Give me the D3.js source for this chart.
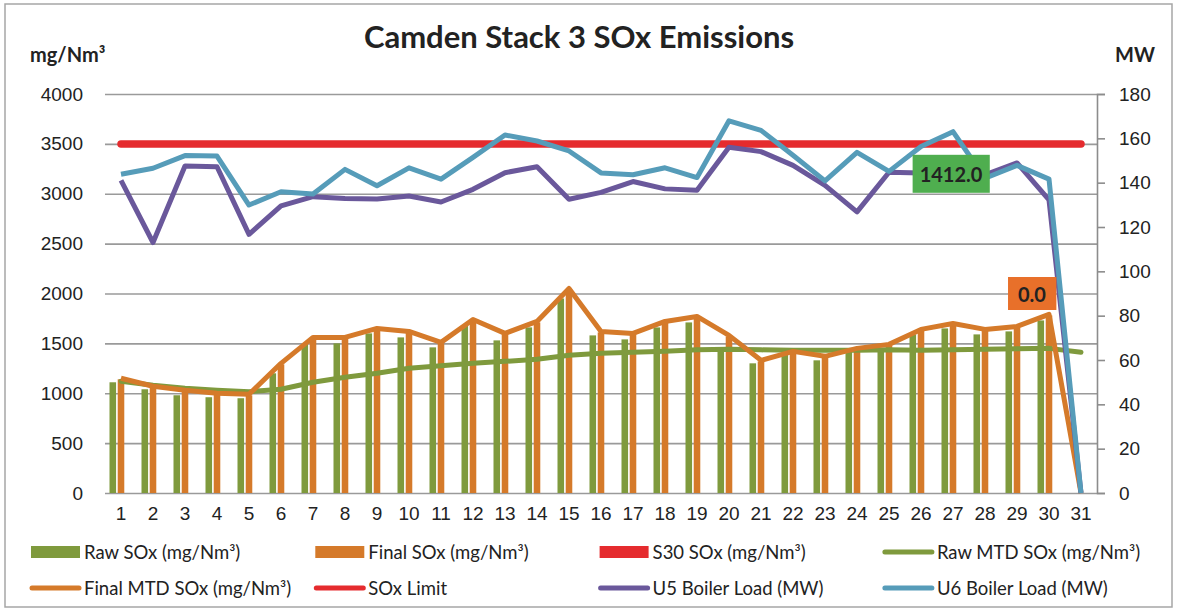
<!DOCTYPE html>
<html>
<head>
<meta charset="utf-8">
<script src="https://cdn.jsdelivr.net/npm/d3@7/dist/d3.min.js"></script>
<style>
  body { margin: 0; background: #fff; }
  svg { font-family: Lato, "Noto Sans", sans-serif; }
</style>
</head>
<body>
<div id="chart"></div>
<script>
// Data
const days = ['1','2','3','4','5','6','7','8','9','10','11','12','13','14','15','16',
              '17','18','19','20','21','22','23','24','25','26','27','28','29','30','31'];

const rawSox = [1110, 1040, 980, 960, 950, 1200, 1490, 1500, 1600, 1560, 1460, 1680, 1530, 1660, 1950, 1580,
                1540, 1660, 1710, 1450, 1300, 1400, 1330, 1430, 1450, 1590, 1650, 1590, 1620, 1730, 0];
const finalSox = [1140, 1060, 1020, 990, 980, 1290, 1550, 1550, 1640, 1610, 1500, 1730, 1590, 1710, 2040, 1610,
                  1590, 1710, 1760, 1570, 1320, 1410, 1360, 1440, 1480, 1630, 1690, 1630, 1660, 1780, 0];
const s30Sox = [0, 0, 0, 0, 0, 0, 0, 0, 0, 0, 0, 0, 0, 0, 0, 0,
                0, 0, 0, 0, 0, 0, 0, 0, 0, 0, 0, 0, 0, 0, 0];
const rawMtd = [1120, 1080, 1050, 1030, 1015, 1040, 1110, 1160, 1200, 1250, 1275, 1300, 1320, 1340, 1380, 1400,
                1410, 1420, 1435, 1440, 1435, 1430, 1430, 1430, 1435, 1430, 1435, 1440, 1445, 1450, 1412];
const finalMtd = [1150, 1070, 1030, 1000, 990, 1300, 1560, 1560, 1650, 1620, 1510, 1740, 1600, 1720, 2050, 1620,
                  1600, 1720, 1770, 1580, 1330, 1420, 1370, 1450, 1490, 1640, 1700, 1640, 1670, 1790, 0];
const soxLimit = [3500, 3500, 3500, 3500, 3500, 3500, 3500, 3500, 3500, 3500, 3500, 3500, 3500, 3500, 3500, 3500,
                  3500, 3500, 3500, 3500, 3500, 3500, 3500, 3500, 3500, 3500, 3500, 3500, 3500, 3500, 3500];
const u5Load = [141, 113, 147.5, 147.2, 116.7, 129.5, 133.7, 132.9, 132.6, 134, 131.3, 137, 144.5, 147.2, 132.5, 135.6,
                140.5, 137.2, 136.6, 156, 154, 147.8, 138.8, 126.8, 144.7, 144.4, 144, 143.5, 148.9, 132.2, 0];
const u6Load = [143.8, 146.5, 152.2, 152, 129.9, 135.9, 134.9, 146, 138.6, 146.7, 141.6, 151.4, 161.5, 158.8, 154.3, 144.4,
                143.6, 146.7, 142.3, 167.9, 163.6, 152.4, 140.8, 153.7, 145.1, 156.3, 163, 142, 147.8, 141.6, 0];

const leftTicks = [0, 500, 1000, 1500, 2000, 2500, 3000, 3500, 4000];
const rightTicks = [0, 20, 40, 60, 80, 100, 120, 140, 160, 180];

const labelRawMtd = '1412.0';
const labelFinalMtd = '0.0';

// Dimensions
const width = 1180;
const height = 611;
const margin = { top: 94, right: 83, bottom: 118, left: 105 };

const svg = d3.select('#chart')
  .append('svg')
  .attr('width', width)
  .attr('height', height);

// outer frame
svg.append('rect')
  .attr('x', 5).attr('y', 4)
  .attr('width', 1167).attr('height', 603)
  .attr('fill', '#fff')
  .attr('stroke', '#a6a6a6')
  .attr('stroke-width', 1.5);

const x = d3.scaleBand()
  .domain(days)
  .range([margin.left, width - margin.right])
  .padding(0);

const x1 = d3.scaleBand()
  .domain(['raw', 'final', 's30'])
  .range([x.bandwidth() / 2 - 11.5, x.bandwidth() / 2 + 11.5])
  .paddingInner(0.2);

const y = d3.scaleLinear()
  .domain([0, 4000])
  .range([height - margin.bottom, margin.top]);

const yR = d3.scaleLinear()
  .domain([0, 180])
  .range([height - margin.bottom, margin.top]);

const cx = d => x(d) + x.bandwidth() / 2;

// gridlines + left axis labels
const gy = svg.append('g')
  .attr('transform', `translate(${margin.left},0)`)
  .call(d3.axisLeft(y).tickValues(leftTicks).tickFormat(d3.format('d'))
    .tickSize(-(width - margin.left - margin.right)).tickPadding(22));
gy.select('.domain').remove();
gy.selectAll('line').attr('stroke', '#9a9a9a').attr('stroke-width', 1.6);
gy.selectAll('text').attr('fill', '#222').style('font-size', '19px');

// right axis
const gr = svg.append('g')
  .attr('transform', `translate(${width - margin.right},0)`)
  .call(d3.axisRight(yR).tickValues(rightTicks).tickSize(8).tickPadding(14));
gr.select('.domain').attr('stroke', '#8c8c8c').attr('stroke-width', 1.6);
gr.selectAll('line').attr('stroke', '#8c8c8c').attr('stroke-width', 1.6);
gr.selectAll('text').attr('fill', '#222').style('font-size', '19px');

// bottom axis labels
const gx = svg.append('g')
  .attr('transform', `translate(0,${height - margin.bottom})`)
  .call(d3.axisBottom(x).tickSize(0).tickPadding(14));
gx.select('.domain').remove();
gx.selectAll('text').attr('fill', '#222').style('font-size', '19px');

// bars
const barSeries = [
  { key: 'raw', values: rawSox, color: '#7f9a3d' },
  { key: 'final', values: finalSox, color: '#d57a2a' },
  { key: 's30', values: s30Sox, color: '#e52b2e' }
];
barSeries.forEach(s => {
  svg.append('g').selectAll('rect')
    .data(days)
    .enter()
    .append('rect')
    .attr('x', (d, i) => x(d) + x1(s.key))
    .attr('y', (d, i) => y(s.values[i]))
    .attr('width', x1.bandwidth())
    .attr('height', (d, i) => y(0) - y(s.values[i]))
    .attr('fill', s.color);
});

// lines
const lineL = d3.line().x((d, i) => cx(days[i])).y(d => y(d));
const lineR = d3.line().x((d, i) => cx(days[i])).y(d => yR(d));

svg.append('path').datum(rawMtd)
  .attr('fill', 'none').attr('stroke', '#7f9a3d').attr('stroke-width', 5)
  .attr('stroke-linejoin', 'round').attr('stroke-linecap', 'round')
  .attr('d', lineL);

svg.append('path').datum(finalMtd)
  .attr('fill', 'none').attr('stroke', '#d57a2a').attr('stroke-width', 5)
  .attr('stroke-linejoin', 'round')
  .attr('d', lineL);

svg.append('path').datum(soxLimit)
  .attr('fill', 'none').attr('stroke', '#e52b2e').attr('stroke-width', 7.5)
  .attr('stroke-linecap', 'round')
  .attr('d', lineL);

svg.append('path').datum(u5Load)
  .attr('fill', 'none').attr('stroke', '#6a589b').attr('stroke-width', 5)
  .attr('stroke-linejoin', 'round')
  .attr('d', lineR);

svg.append('path').datum(u6Load)
  .attr('fill', 'none').attr('stroke', '#569cb9').attr('stroke-width', 5)
  .attr('stroke-linejoin', 'round')
  .attr('d', lineR);

// data labels
function dataLabel(text, mx, my, fill, pad, h) {
  const g = svg.append('g');
  const t = g.append('text')
    .attr('x', mx).attr('y', my)
    .attr('text-anchor', 'middle')
    .attr('dominant-baseline', 'central')
    .attr('fill', '#222')
    .style('font-size', '20px')
    .style('font-weight', 'bold')
    .text(text);
  const bb = t.node().getBBox();
  g.insert('rect', 'text')
    .attr('x', bb.x - pad).attr('y', my - h / 2)
    .attr('width', bb.width + pad * 2).attr('height', h)
    .attr('fill', fill);
}
dataLabel(labelRawMtd, cx('27') - 2, y(3200), '#4fae4f', 7, 38);
dataLabel(labelFinalMtd, cx('30') - 17, y(2000), '#e8702a', 10, 33);

// title and axis titles
svg.append('text')
  .attr('x', 579).attr('y', 48)
  .attr('text-anchor', 'middle')
  .attr('fill', '#222')
  .style('font-size', '31px')
  .style('font-weight', 'bold')
  .text('Camden Stack 3 SOx Emissions');

svg.append('text')
  .attr('x', 30).attr('y', 62)
  .attr('fill', '#222')
  .style('font-size', '20px')
  .style('font-weight', 'bold')
  .text('mg/Nm³');

svg.append('text')
  .attr('x', 1115).attr('y', 62)
  .attr('fill', '#222')
  .style('font-size', '20px')
  .style('font-weight', 'bold')
  .text('MW');

// legend
const legendItems = [
  { name: 'Raw SOx (mg/Nm³)', color: '#7f9a3d', type: 'rect' },
  { name: 'Final SOx (mg/Nm³)', color: '#d57a2a', type: 'rect' },
  { name: 'S30 SOx (mg/Nm³)', color: '#e52b2e', type: 'rect' },
  { name: 'Raw MTD SOx (mg/Nm³)', color: '#7f9a3d', type: 'line' },
  { name: 'Final MTD SOx (mg/Nm³)', color: '#d57a2a', type: 'line' },
  { name: 'SOx Limit', color: '#e52b2e', type: 'line' },
  { name: 'U5 Boiler Load (MW)', color: '#6a589b', type: 'line' },
  { name: 'U6 Boiler Load (MW)', color: '#569cb9', type: 'line' }
];
const legend = svg.append('g');
legendItems.forEach((item, i) => {
  const lx = 31 + (i % 4) * 284.3;
  const ly = 552 + Math.floor(i / 4) * 36;
  if (item.type === 'rect') {
    legend.append('rect')
      .attr('x', lx).attr('y', ly - 6)
      .attr('width', 49).attr('height', 12)
      .attr('fill', item.color);
  } else {
    legend.append('line')
      .attr('x1', lx + 1).attr('x2', lx + 48)
      .attr('y1', ly).attr('y2', ly)
      .attr('stroke', item.color)
      .attr('stroke-width', 5)
      .attr('stroke-linecap', 'round');
  }
  legend.append('text')
    .attr('x', lx + 53).attr('y', ly + 7)
    .attr('fill', '#222')
    .style('font-size', '18.5px')
    .text(item.name);
});
</script>
</body>
</html>
